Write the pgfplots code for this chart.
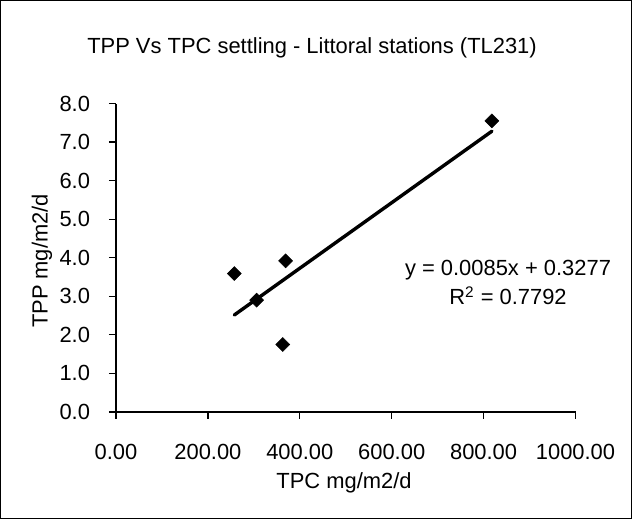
\documentclass[border=0pt]{standalone}
\usepackage{fontspec}
\setmainfont{Liberation Sans}
\usepackage{pgfplots}
\pgfplotsset{compat=1.18}
\begin{document}
\begin{tikzpicture}
\fontsize{11}{13}\selectfont
\useasboundingbox (0,0) rectangle (316bp,259.5bp);
\draw[line width=0.6bp] (0.3bp,0.3bp) rectangle (315.7bp,259.2bp);
\begin{axis}[
  at={(58bp,53.5bp)}, anchor=south west,
  scale only axis, width=229.75bp, height=154.25bp,
  xmin=0, xmax=1000, ymin=0, ymax=8,
  axis x line*=bottom, axis y line*=left,
  axis line style={-, line width=0.6bp, black},
  xtick={0,200,400,600,800,1000}, ytick={0,1,2,3,4,5,6,7,8},
  tick align=outside, major tick length=3.5bp,
  tick style={black, line width=0.6bp},
  /pgf/number format/assume math mode=true,
  font=\fontsize{11}{13}\selectfont,
  x tick label style={/pgf/number format/fixed, /pgf/number format/fixed zerofill, /pgf/number format/precision=2, /pgf/number format/1000 sep={}},
  y tick label style={/pgf/number format/fixed, /pgf/number format/fixed zerofill, /pgf/number format/precision=1},
  xticklabel style={inner sep=0pt, anchor=north, yshift=-12.5bp},
  yticklabel style={inner sep=0pt, anchor=east, xshift=-9.3bp},
  clip=false,
]
\addplot[black, line width=1.7bp, line cap=round] coordinates {(257.5,2.516) (818,7.281)};
\addplot[only marks, mark=square*, mark size=2.45bp, mark options={rotate=45, fill=black, draw=black, line width=0.3bp}] coordinates {
(257.5,3.59) (306,2.90) (363,1.75) (369,3.92) (818,7.55)};
\end{axis}
\node[anchor=base] at (156bp,232.75bp) {TPP Vs TPC settling - Littoral stations (TL231)};
\node[anchor=base] at (172bp,15.5bp) {TPC mg/m2/d};
\node[anchor=base, rotate=90] at (23.75bp,129bp) {TPP mg/m2/d};
\node[anchor=base] at (254bp,121.75bp) {y = 0.0085x + 0.3277};
\node[anchor=base] at (254bp,107bp) {R\textsuperscript{2} = 0.7792};
\end{tikzpicture}
\end{document}
